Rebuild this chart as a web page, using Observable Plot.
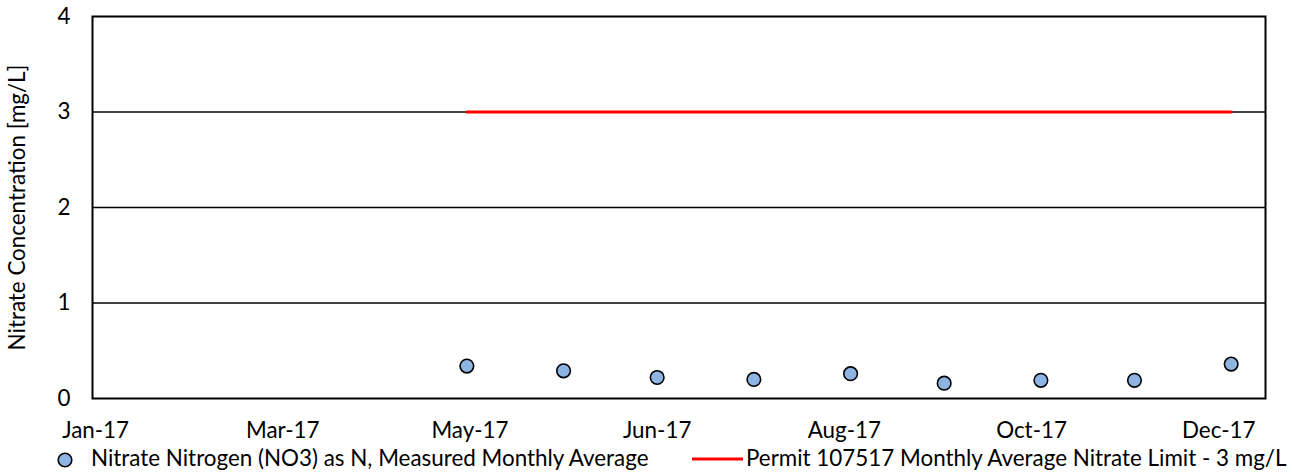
<!DOCTYPE html>
<html>
<head>
<meta charset="utf-8">
<script src="https://cdn.jsdelivr.net/npm/d3@7"></script>
<script src="https://cdn.jsdelivr.net/npm/@observablehq/plot@0.6"></script>
<style>
  body { margin: 0; background: #fff; font-family: Lato, sans-serif; }
  #chart { width: 1292px; height: 447px; }
  #legend { position: relative; width: 1292px; height: 27px; font-size: 22.4px; color: #000; }
  .lg { position: absolute; white-space: nowrap; top: -2px; line-height: 26px; }
</style>
</head>
<body>
<div id="chart"></div>
<div id="legend">
  <svg style="position:absolute;left:56px;top:3.5px" width="18" height="18"><circle cx="9" cy="9" r="6.8" fill="#8DB4E2" stroke="#000" stroke-width="1.6"/></svg>
  <span class="lg" style="left:91px">Nitrate Nitrogen (NO3) as N, Measured Monthly Average</span>
  <svg style="position:absolute;left:692px;top:9px" width="51" height="6"><line x1="0" y1="3" x2="51" y2="3" stroke="#FF0000" stroke-width="3"/></svg>
  <span class="lg" style="left:746px">Permit 107517 Monthly Average Nitrate Limit - 3 mg/L</span>
</div>
<script>
const tickDates = ["2017-01-01","2017-03-02","2017-05-01","2017-06-30","2017-08-29","2017-10-28","2017-12-27"];
const tickLabels = ["Jan-17","Mar-17","May-17","Jun-17","Aug-17","Oct-17","Dec-17"];
const sampleDates = ["2017-04-30","2017-05-31","2017-06-30","2017-07-31","2017-08-31","2017-09-30","2017-10-31","2017-11-30","2017-12-31"];
const nitrate = [0.34,0.29,0.22,0.20,0.26,0.16,0.19,0.19,0.36];
const limitDates = ["2017-04-30","2017-12-31"];
const limitValues = [3,3];
const yTicks = [0,1,2,3,4];
const gridValues = [1,2,3];

const parse = d3.utcParse("%Y-%m-%d");
const samples = sampleDates.map((d,i)=>({date: parse(d), value: nitrate[i]}));
const limit = limitDates.map((d,i)=>({date: parse(d), value: limitValues[i]}));
const ticks = tickDates.map(parse);
const labelOf = new Map(ticks.map((t,i)=>[+t, tickLabels[i]]));

const chart = Plot.plot({
  width: 1292,
  height: 447,
  marginTop: 16,
  marginLeft: 92,
  marginRight: 27,
  marginBottom: 49,
  style: {fontFamily: "Lato, sans-serif", fontSize: "22.4px", color: "#000", background: "#fff"},
  x: {type: "utc", domain: [parse("2016-12-31"), parse("2018-01-11")]},
  y: {domain: [0, 4]},
  marks: [
    Plot.ruleY(gridValues, {stroke: "#000", strokeWidth: 1.5}),
    Plot.axisX({ticks: ticks, tickFormat: d => labelOf.get(+d), tickSize: 0, tickPadding: 24, label: null, fontSize: 22.4}),
    Plot.axisY({ticks: yTicks, tickFormat: d3.format("d"), tickSize: 0, tickPadding: 22, label: "Nitrate Concentration [mg/L]", labelAnchor: "center", labelArrow: "none", labelOffset: 83.5, fontSize: 22.4}),
    Plot.line(limit, {x: "date", y: "value", stroke: "#FF0000", strokeWidth: 3}),
    Plot.dot(samples, {x: "date", y: "value", r: 6.8, fill: "#8DB4E2", stroke: "#000", strokeWidth: 1.6}),
    Plot.frame({stroke: "#000", strokeWidth: 2})
  ]
});
document.getElementById("chart").appendChild(chart);
</script>
</body>
</html>
